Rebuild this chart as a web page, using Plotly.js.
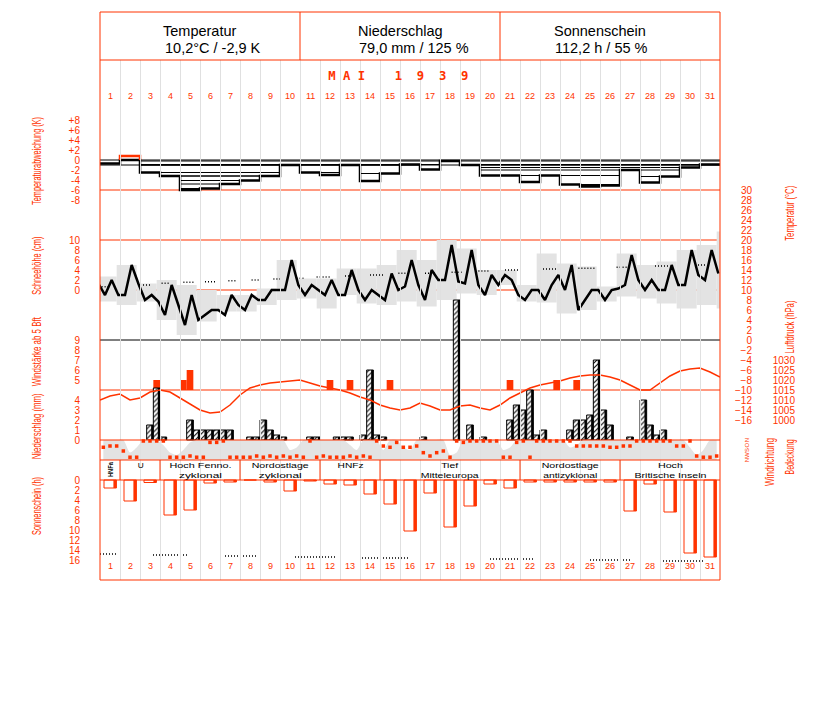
<!DOCTYPE html>
<html><head><meta charset="utf-8">
<script src="https://cdn.plot.ly/plotly-3.0.1.min.js"></script>
<style>body{margin:0;background:#fff}#chart{width:827px;height:702px}</style>
</head><body><div id="chart"></div><script>
// ---------------- DATA ----------------
const days = [1,2,3,4,5,6,7,8,9,10,11,12,13,14,15,16,17,18,19,20,21,22,23,24,25,26,27,28,29,30,31];
const headTitles = ['Temperatur','Niederschlag','Sonnenschein'];
const headValues = ['10,2°C / -2,9 K','79,0 mm / 125 %','112,2 h / 55 %'];
const monthTitle = 'M A I    1  9  3  9';

// daily temperature deviation (K)
const tempDev = [-0.7,0.8,-2.5,-3.2,-6.0,-5.7,-4.8,-4.1,-3.2,-1.0,-2.5,-3.0,-1.0,-4.2,-2.7,-0.9,-1.9,-0.2,-1.0,-3.1,-3.1,-4.4,-3.1,-4.9,-5.3,-5.1,-2.0,-4.5,-3.3,-1.5,-0.9];
const devTicks = [8,6,4,2,0,-2,-4,-6,-8];
const devTickText = ['+8','+6','+4','+2','0','-2','-4','-6','-8'];

// temperature observations (3 per day, first = 30 April evening), °C
const tempObs = [11.3,9,12, 9,9,15, 11.3,8,9, 7.7,5,11, 7,3,9, 4,5,6, 6,5,9, 7,6,9, 8,8,10, 10,10,16,
 11,9,11, 10,9,12, 9,9,14, 10,8,10, 9,8,13.3, 10,10.7,16, 11,8,14, 12,12,19, 11.7,11.3,18, 11,9,13,
 11,13,12, 9,8,10, 10,8,11, 13,10,15, 6,8,10, 10,8,10, 10.3,11,17, 12,10,12, 10,10,15, 11,11,18, 13,12,18, 13.3];
// daily max / min (gray band)
const tempMax = [12.7,15,11.3,12,11,10,9,9,10.3,16,12.3,12.3,14.3,14.3,15,18,16,20,18.3,14,14,11,17.3,15.3,14.7,10.7,17.3,15,15.7,18,19,21.7];
const tempMin = [7.7,7,7.7,4,1,3.7,5.7,5.7,7,8,8.3,6.3,9,7.3,7,7.7,6.7,8,9.3,9,11,7.7,7.5,5.3,6,7.7,8.7,8.3,7.3,6.3,7,6.3];
// long-term mean temperature (dotted)
const climStart = [0.58,2.5,3.58,4.67,5.75,6.92,8.08,9.17,10.33,11.33,12.75,14.0,15.42,16.75,18.08,19.42,20.75,22.5,24.42,26.33,28.25,30.25];
const climEnd   = [0.92,3.0,4.0,5.17,6.25,7.33,8.5,9.58,10.67,12.0,13.08,14.67,15.83,17.33,18.67,20.0,21.5,23.33,25.25,26.83,29.0,30.83];
const climTemp  = [10.67,11.0,11.33,11.53,11.67,11.87,12.0,12.2,12.33,12.6,12.8,13.0,13.33,13.33,13.53,13.8,14.0,14.2,14.33,14.53,14.8,15.0];
const tempTicks = [30,28,26,24,22,20,18,16,14,12,10,8,6,4,2,0,-2,-4,-6,-8,-10,-12,-14,-16];
const snowTicks = [10,8,6,4,2,0];

// precipitation per third of day (mm)
const precip = [0,0,0, 0,0,0, 0,1.5,5.2, 0.3,0,0, 0,2,1, 1,1,1, 1,1,0, 0,0.3,0.3, 2,1,0.5, 0.3,0,0,
 0,0.3,0.3, 0,0,0.3, 0.3,0.3,0, 0.5,7,0.5, 0.3,0,0, 0,0,0, 0.3,0,0, 0,0,14, 0,1.5,0, 0.3,0,0,
 0,2,3.5, 3,5,0.5, 1,0,0, 0,1,2, 2,2.5,8, 3,1.5,0, 0,0.3,0, 4,1.5,0.5, 1,0,0, 0,0,0, 0,0,0];
const precipTicks = [4,3,2,1,0];
// wind force (Bft, >= 5 only) per third of day
const windBft = [null,null,null, null,null,null, null,null,5, null,null,null, 5,6,null, null,null,null, null,null,null,
 null,null,null, null,null,null, null,null,null, null,null,null, null,5,null, null,5,null, null,null,null, null,5,null,
 null,null,null, null,null,null, null,null,null, null,null,null, null,null,null, null,5,null, null,null,null,
 null,null,5, null,null,5, null,null,null, null,null,null, null,null,null, null,null,null, null,null,null, null,null,null, null,null,null];
const windTicks = [9,8,7,6,5];
// air pressure (hPa), twice a day
const pressure = [1010,1012,1013,1010,1011,1014,1015,1014,1011,1008,1005,1003.5,1004,1007.5,1012.5,1016,1017.5,1018.5,1019,1019.5,
 1020,1018.5,1017,1016,1015,1013.5,1011.5,1010,1007.5,1006,1005,1006,1008.5,1007,1005,1005,1007,1007.5,1006,1005,
 1007.5,1011,1013.5,1016,1017.5,1018.5,1019.5,1021,1022,1022.5,1022.5,1021.5,1020,1017.5,1015,1015,1018.5,1022,1024.5,1025.5,
 1026,1024,1021.5];
const pressTicks = [1030,1025,1020,1015,1010,1005,1000];
// cloud cover (octas) per third of day
const cloud = [8,8,8, 8,3,5, 8,8,8, 6,3,2, 4,7,8, 8,8,8, 8,8,8, 8,8,8, 8,8,8, 8,4,5, 8,8,8, 8,8,8, 8,6,4, 8,8,8, 4,8,8,
 5,4,8, 8,8,8, 8,2,3, 8,8,8, 8,8,8, 4,5,8, 8,8,8, 8,8,8, 8,5,6, 8,8,8, 8,8,8, 8,8,8, 8,8,8, 8,8,8, 8,5,2, 4,8,8];
// wind direction (degrees) per third of day
const windDir = [113,90,90, 180,292,292, 0,0,0, 0,292,292, 292,270,292, 292,25,25, 0,292,292, 292,292,270, 292,270,292,
 270,292,270, 292,0,292, 270,292,292, 292,270,292, 270,292,0, 90,113,25, 113,113,90, 210,270,210, 180,292,0,
 25,0,0, 0,0,0, 292,292,25, 0,292,0, 0,0,0, 0,0,90, 90,90,90, 90,113,113, 90,90,0, 0,0,0, 0,0,90, 90,0,270, 292,292,270];
const dirTicks = [0,90,180,270,360];
const dirTickText = ['N','O','S','W','N'];
// weather types
const wtStart = [1,2,4,8,12,15,22,27];
const wtEnd   = [1,3,7,11,14,21,26,31];
const wtLabel = ['HNFa','U','Hoch Fenno.<br>zyklonal','Nordostlage<br>zyklonal','HNFz','Tief<br>Mitteleuropa','Nordostlage<br>antizyklonal','Hoch<br>Britische Inseln'];
// sunshine (h)
const sunshine = [1.6,4.2,0.5,7,6,0.6,0.4,0,0.4,2.2,0.2,0.8,1,2.8,4.8,10.2,2.6,9.4,5.2,0.8,1.6,0.4,0.4,0.4,0.4,0.4,6.2,0.8,6.4,14.6,15.4];
const sunPossStart = [0.5,3.15,6.75,10.25,13.6,20.0,25.0,28.5];
const sunPossEnd   = [1.4,4.85,8.4,12.25,15.9,22.25,27.0,30.75];
const sunPossVal   = [14.8,15.0,15.2,15.4,15.6,15.8,16.0,16.2];
const sunTicks = [0,2,4,6,8,10,12,14,16];

// ---------------- LAYOUT HELPERS ----------------
const RED = '#ff3300', GRAY = '#e3e3e3', GRID = '#e0e0e0';
const FONT = 'Liberation Sans, Arial, sans-serif';
const W = 827, HT = 702, PT = 12, PB = 580, GT = 60;
const px = x => x / W;
const py = y => (PB - y) / (PB - PT);
const DOM = [0, (PB - GT) / (PB - PT)];
const thirds = [];
days.forEach(d => { thirds.push(d - 1/3, d, d + 1/3); });
const obsX = tempObs.map((_, k) => 0.4167 + k / 3);
const pressX = pressure.map((_, k) => 0.5 + k / 2);
const WIND_BASE = 4;

function ax(f, extra) { // f: pixel -> value
  return Object.assign({overlaying: 'y', domain: DOM, range: [f(PB), f(GT)], showgrid: false, zeroline: false,
    showline: false, ticks: '', anchor: 'free', side: 'left', fixedrange: true,
    tickfont: {family: FONT, size: 10, color: RED}, showticklabels: false}, extra || {});
}
const leftPos = px(80);

const traces = [];
traces.push({x: thirds, y: cloud, yaxis: 'y9', type: 'scatter', mode: 'lines', line: {width: 0, color: GRAY, shape: 'spline', smoothing: 0.7},
  fill: 'tozeroy', fillcolor: GRAY, hoverinfo: 'skip'});
traces.push({x: thirds, y: windDir, yaxis: 'y10', type: 'scatter', mode: 'markers',
  marker: {symbol: 'square', size: 3.5, color: RED}, hoverinfo: 'skip'});
const stepX = days.map(d => d - 0.5).concat([31.5]);
const stepY = tempDev.map(v => Math.min(v, 0)).concat([Math.min(tempDev[30], 0)]);
const terrX = [], terrY = [];
for (let i = 0; i < 31; i++) {
  const v = tempDev[i]; if (v >= 0) continue;
  let L = i, R = i;
  while (L > 0 && tempDev[L-1] <= v) L--;
  while (R < 30 && tempDev[R+1] <= v) R++;
  terrX.push(days[L] - 0.5, days[R] + 0.5, null); terrY.push(v, v, null);
}
traces.push({x: terrX, y: terrY, yaxis: 'y2', mode: 'lines', line: {color: '#000', width: 1}, hoverinfo: 'skip'});
traces.push({x: stepX, y: stepY, yaxis: 'y2', mode: 'lines', line: {color: '#000', width: 2.5, shape: 'hv'}, hoverinfo: 'skip'});
const posX = [], posY = [];
tempDev.forEach((v, i) => { if (v > 0) { posX.push(days[i]-0.5, days[i]-0.5, days[i]+0.5, days[i]+0.5, null); posY.push(0, v, v, 0, null); } });
traces.push({x: posX, y: posY, yaxis: 'y2', mode: 'lines', line: {color: RED, width: 2.5}, hoverinfo: 'skip'});
const clX = [], clY = [];
climStart.forEach((s, i) => { clX.push(s, climEnd[i], null); clY.push(climTemp[i], climTemp[i], null); });
traces.push({x: clX, y: clY, yaxis: 'y3', mode: 'lines', line: {color: '#000', width: 1.5, dash: '1px,2px'}, hoverinfo: 'skip'});
traces.push({x: obsX, y: tempObs, yaxis: 'y3', mode: 'lines', line: {color: '#000', width: 2.5}, hoverinfo: 'skip'});
const precipPos = precip.map(v => v > 0 ? v : null);
traces.push({x: thirds, y: precipPos, yaxis: 'y6', type: 'bar', width: 1/3,
  marker: {color: '#fff', line: {color: '#000', width: 1}, pattern: {shape: '/', fgcolor: '#000', bgcolor: '#fff', size: 3.5, solidity: 0.3}}, hoverinfo: 'skip'});
traces.push({x: thirds, y: precipPos, yaxis: 'y6', type: 'bar', width: 0.11, offset: 1/6 - 0.11,
  marker: {color: '#000', line: {width: 0}}, hoverinfo: 'skip'});
traces.push({x: thirds, y: windBft.map(v => v == null ? null : v - WIND_BASE), base: WIND_BASE, yaxis: 'y5', type: 'bar', width: 1/3,
  marker: {color: RED, line: {width: 0}}, hoverinfo: 'skip'});
traces.push({x: pressX, y: pressure, yaxis: 'y7', mode: 'lines', line: {color: RED, width: 1.5}, hoverinfo: 'skip'});
traces.push({x: days, y: sunshine, yaxis: 'y8', type: 'bar', width: 0.62, offset: -0.3,
  marker: {color: '#fff', line: {color: RED, width: 1}}, hoverinfo: 'skip'});
traces.push({x: days, y: sunshine, yaxis: 'y8', type: 'bar', width: 0.15, offset: 0.17,
  marker: {color: RED, line: {width: 0}}, hoverinfo: 'skip'});
const spX = [], spY = [];
sunPossStart.forEach((s, i) => { spX.push(s, sunPossEnd[i], null); spY.push(sunPossVal[i], sunPossVal[i], null); });
traces.push({x: spX, y: spY, yaxis: 'y8', mode: 'lines', line: {color: '#000', width: 1.5, dash: '1px,2px'}, hoverinfo: 'skip'});
traces.push({x: [1], y: [null], yaxis: 'y4', mode: 'lines', hoverinfo: 'skip'});

// ---------------- SHAPES ----------------
const shapes = [];
tempMax.forEach((t, j) => shapes.push({type: 'rect', xref: 'x', yref: 'y3', x0: 0.3333 + j, x1: 1.3333 + j,
  y0: tempMin[j], y1: t, fillcolor: GRAY, line: {width: 0}, layer: 'below'}));
function hline(y, color, layer) {
  shapes.push({type: 'line', xref: 'paper', yref: 'paper', x0: px(100), x1: px(720), y0: py(y), y1: py(y),
    line: {color: color, width: 1}, layer: layer});
}
[190, 240, 290, 390].forEach(y => hline(y, RED, 'below'));
hline(340, '#000', 'below');
[60, 440, 460, 480].forEach(y => hline(y, RED, 'above'));
shapes.push({type: 'line', xref: 'x', yref: 'y2', x0: 0.5, x1: 31.5, y0: 0, y1: 0, line: {color: '#000', width: 1}, layer: 'below'});
shapes.push({type: 'line', xref: 'x', yref: 'y2', x0: 0.5, x1: 31.5, y0: -1, y1: -1, line: {color: '#000', width: 1}, layer: 'below'});
shapes.push({type: 'rect', xref: 'paper', yref: 'paper', x0: px(100), x1: px(720), y0: 0, y1: 1, line: {color: RED, width: 1}, layer: 'above'});
[300, 500].forEach(x => shapes.push({type: 'line', xref: 'paper', yref: 'paper', x0: px(x), x1: px(x), y0: py(60), y1: 1, line: {color: RED, width: 1}, layer: 'above'}));
wtStart.slice(1).forEach(s => shapes.push({type: 'line', xref: 'x', yref: 'paper', x0: s - 0.5, x1: s - 0.5, y0: py(480), y1: py(460), line: {color: RED, width: 1}, layer: 'above'}));

// ---------------- ANNOTATIONS ----------------
const ann = [];
function A(o) { ann.push(Object.assign({showarrow: false, xanchor: 'center', yanchor: 'middle', xref: 'paper', yref: 'paper'}, o)); }
const cx = [200, 400, 600], vx = [163, 357, 553];
headTitles.forEach((t, i) => {
  A({text: t, x: px(cx[i]), y: py(31), font: {family: FONT, size: 14.5, color: '#000'}});
  A({text: headValues[i], x: px(vx[i]), xanchor: 'left', y: py(48), font: {family: FONT, size: 14.5, color: '#000'}});
});
const textLen = {};
textLen[monthTitle] = 140;
A({text: monthTitle, x: px(398), y: py(75), font: {family: 'DejaVu Sans Mono, monospace', size: 13, color: RED, weight: 'bold'}});
days.forEach(d => {
  A({text: String(d), xref: 'x', x: d, y: py(96), font: {family: FONT, size: 9, color: RED}});
  A({text: String(d), xref: 'x', x: d, y: py(566), font: {family: FONT, size: 9, color: RED}});
});
const rotTitles = [['Temperaturabweichung (K)', 37, 161, 88], ['Schneehöhe (cm)', 37, 266, 58], ['Windstärke ab 5 Bft', 37, 352, 69],
  ['Niederschlag (mm)', 37, 427, 66], ['Sonnenschein (h)', 37, 506, 58], ['Temperatur (°C)', 790, 214, 55],
  ['Luftdruck (hPa)', 790, 327, 53], ['Windrichtung', 770, 462, 48], ['Bedeckung', 790, 457, 35]];
rotTitles.forEach(([t, x, y, L]) => { textLen[t] = L; A({text: t, x: px(x), y: py(y), textangle: -90, font: {family: FONT, size: 12, color: RED}}); });
Object.assign(textLen, {'Hoch Fenno.': 62, 'zyklonal': 43, 'Nordostlage': 57, 'HNFz': 26, 'Tief': 17, 'Mitteleuropa': 58,
  'antizyklonal': 54, 'Hoch': 25, 'Britische Inseln': 72, 'U': 6, 'HNFa': 15});
wtLabel.forEach((t, i) => {
  const xc = (wtStart[i] + wtEnd[i]) / 2;
  if (i === 0) { A({text: t, xref: 'x', x: xc, y: py(470), textangle: -90, font: {family: FONT, size: 8, color: '#000', weight: 'bold'}}); return; }
  const two = t.indexOf('<br>') >= 0;
  A({text: t, xref: 'x', x: xc, y: py(two ? 470 : 466), font: {family: FONT, size: 7.5, color: '#000'}});
});

const layout = {
  width: W, height: HT, margin: {l: 0, r: 0, t: PT, b: HT - PB, pad: 0},
  paper_bgcolor: '#fff', plot_bgcolor: 'rgba(0,0,0,0)', showlegend: false, barmode: 'overlay',
  xaxis: {domain: [px(100), px(720)], range: [0.5, 31.5], tick0: 0.5, dtick: 1, showgrid: true, gridcolor: GRID,
    showticklabels: false, zeroline: false, showline: false, ticks: '', fixedrange: true, anchor: 'y'},
  yaxis: {domain: DOM, range: [PB, GT], tick0: 0, dtick: 10, showgrid: true, gridcolor: GRID,
    showticklabels: false, zeroline: false, showline: false, ticks: '', fixedrange: true},
  yaxis2: ax(y => (160 - y) / 5, {showticklabels: true, tickvals: devTicks, ticktext: devTickText, position: leftPos}),
  yaxis3: ax(y => 10 + (290 - y) / 5, {showticklabels: true, tickvals: tempTicks, position: px(752)}),
  yaxis4: ax(y => (290 - y) / 5, {showticklabels: true, tickvals: snowTicks, position: leftPos}),
  yaxis5: ax(y => 4 + (390 - y) / 10, {showticklabels: true, tickvals: windTicks, position: leftPos}),
  yaxis6: ax(y => (440 - y) / 10, {showticklabels: true, tickvals: precipTicks, position: leftPos}),
  yaxis7: ax(y => 1000 + (420 - y) / 2, {showticklabels: true, tickvals: pressTicks, position: px(795)}),
  yaxis8: ax(y => (y - 480) / 5, {showticklabels: true, tickvals: sunTicks, position: leftPos}),
  yaxis9: ax(y => (460 - y) * 0.4),
  yaxis10: ax(y => (y - 441) * 18, {showticklabels: true, tickvals: dirTicks, ticktext: dirTickText, tickangle: -90,
    position: px(750), tickfont: {family: FONT, size: 6, color: RED}}),
  shapes: shapes, annotations: ann
};
function squeeze(el) {
  const L = textLen[el.textContent];
  if (L) { el.setAttribute('textLength', L); el.setAttribute('lengthAdjust', 'spacingAndGlyphs'); }
}
Plotly.newPlot('chart', traces, layout, {staticPlot: true, displayModeBar: false}).then(() => {
  document.querySelectorAll('.annotation-text').forEach(t => {
    const lines = t.querySelectorAll('tspan.line');
    if (lines.length) lines.forEach(squeeze); else squeeze(t);
  });
});
</script></body></html>
